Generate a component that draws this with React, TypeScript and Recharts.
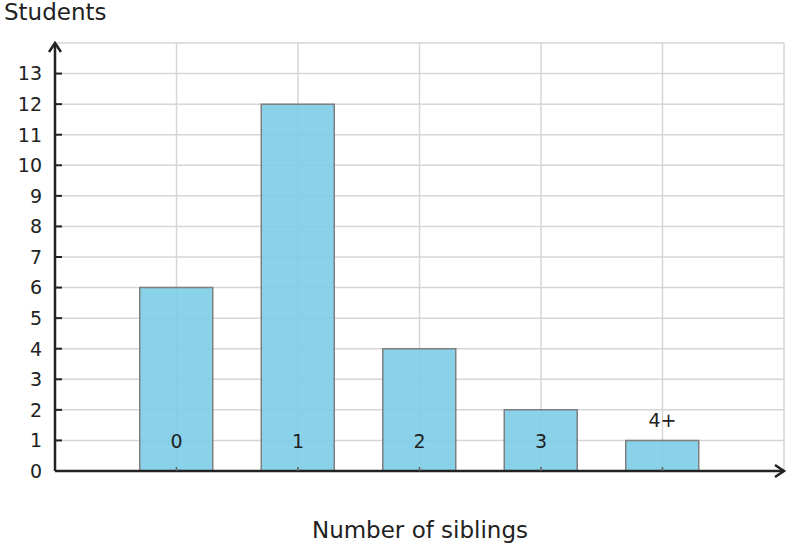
import React from 'react';
import { BarChart, Bar, XAxis, YAxis, CartesianGrid } from 'recharts';

// Sample data
const categories = ['0', '1', '2', '3', '4+'];
const positions = [1, 2, 3, 4, 5];
const students = [6, 12, 4, 2, 1];
const yTicks = [0, 1, 2, 3, 4, 5, 6, 7, 8, 9, 10, 11, 12, 13, 14];
const xTicks = [0, 1, 2, 3, 4, 5, 6];

const data = positions.map((pos, i) => ({ pos, label: categories[i], students: students[i] }));

const W = 788;
const H = 548;
const yAxisWidth = 55;
const xAxisHeight = 77;
const margin = { top: 43, right: 4, left: 0, bottom: 0 };
const font = '"DejaVu Sans", sans-serif';
const ink = '#222';

const YTick = (props: any) => {
  const { x, y, payload } = props;
  if (payload.value === 14) return null;
  return (
    <g>
      <line x1={x} x2={x + 7} y1={y} y2={y} stroke={ink} strokeWidth={2} />
      <text x={x - 13} y={y} dy="0.36em" textAnchor="end" fontSize={19} fontFamily={font} fill={ink}>
        {payload.value}
      </text>
    </g>
  );
};

const XTick = (props: any) => {
  const { x, y, payload } = props;
  const idx = positions.indexOf(payload.value);
  if (idx < 0) return null;
  // label sits just above a short bar, otherwise at the 1-student level
  const lift = students[idx] <= 1 ? 51 : 30;
  return (
    <g>
      <line x1={x} x2={x} y1={y} y2={y - 4} stroke="#666" strokeWidth={1.5} />
      <text x={x} y={y - lift} dy="0.36em" textAnchor="middle" fontSize={19} fontFamily={font} fill={ink}>
        {categories[idx]}
      </text>
    </g>
  );
};

const App: React.FC = () => {
  const plotLeft = margin.left + yAxisWidth;
  const plotRight = W - margin.right;
  const plotBottom = H - margin.bottom - xAxisHeight;
  return (
    <div style={{ position: 'absolute', left: 0, top: 0, width: W, height: H, background: '#fff' }}>
      <BarChart width={W} height={H} data={data} margin={margin}>
        <CartesianGrid stroke="#d6d6d6" strokeWidth={1.5} />
        <Bar
          dataKey="students"
          barSize={73}
          fill="#7ccde8"
          fillOpacity={0.9}
          stroke="#7f7f7f"
          strokeWidth={1.5}
          isAnimationActive={false}
        />
        <XAxis
          dataKey="pos"
          type="number"
          domain={[0, 6]}
          ticks={xTicks}
          height={xAxisHeight}
          tickSize={0}
          tickMargin={0}
          tickLine={false}
          axisLine={{ stroke: ink, strokeWidth: 2.5 }}
          tick={<XTick />}
          interval={0}
        />
        <YAxis
          type="number"
          domain={[0, 14]}
          ticks={yTicks}
          width={yAxisWidth}
          tickSize={0}
          tickMargin={0}
          tickLine={false}
          axisLine={{ stroke: ink, strokeWidth: 2.5 }}
          tick={<YTick />}
          interval={0}
        />
      </BarChart>
      <svg width={W} height={H} style={{ position: 'absolute', left: 0, top: 0, pointerEvents: 'none' }}>
        <polyline
          points={`${plotRight - 9},${plotBottom - 6} ${plotRight},${plotBottom} ${plotRight - 9},${plotBottom + 6}`}
          fill="none"
          stroke={ink}
          strokeWidth={2.5}
        />
        <polyline
          points={`${plotLeft - 6},${margin.top + 9} ${plotLeft},${margin.top} ${plotLeft + 6},${margin.top + 9}`}
          fill="none"
          stroke={ink}
          strokeWidth={2.5}
        />
        <text x={4} y={20} fontSize={23} fontFamily={font} fill={ink}>
          Students
        </text>
        <text x={420} y={538} textAnchor="middle" fontSize={23} fontFamily={font} fill={ink}>
          Number of siblings
        </text>
      </svg>
    </div>
  );
};

export default App;
